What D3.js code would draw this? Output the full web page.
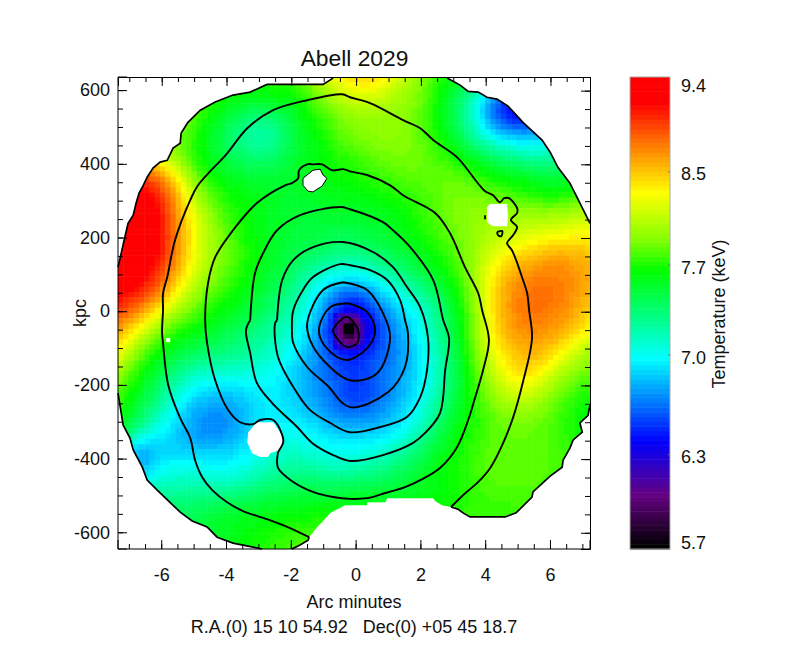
<!DOCTYPE html>
<html>
<head>
<meta charset="utf-8">
<script src="https://cdn.jsdelivr.net/npm/d3@7"></script>
<style>
body{margin:0;background:#fff;}
text{font-family:"Liberation Sans",Arial,sans-serif;fill:#111;}
</style>
</head>
<body>
<svg id="chart" width="786" height="668"></svg>
<script>
// temperature (keV), 25x25 nodes from top-left to bottom-right
let tempGrid = [
[7.8,7.8,7.8,7.8,7.8,7.75,7.7,7.7,7.75,7.75,8.0,8.3,8.45,8.45,8.25,8.0,7.8,7.6,7.5,7.2,7.0,6.8,6.8,6.8,6.8],
[7.9,7.9,7.9,7.9,7.85,7.7,7.65,7.6,7.65,7.65,7.85,8.05,8.2,8.2,8.05,7.95,7.75,7.5,7.2,6.7,6.45,6.3,6.3,6.6,6.8],
[8.0,8.0,8.0,8.0,7.75,7.6,7.45,7.3,7.35,7.55,7.7,7.85,7.95,7.95,7.95,7.9,7.7,7.45,7.1,6.6,6.3,6.35,6.6,6.7,6.9],
[8.2,8.1,8.0,7.9,7.7,7.5,7.25,7.15,7.2,7.5,7.6,7.8,7.9,7.95,7.95,7.9,7.75,7.55,7.25,6.95,6.85,6.8,6.9,7.0,7.1],
[8.8,8.6,8.1,7.9,7.7,7.5,7.4,7.3,7.35,7.55,7.6,7.7,7.75,7.85,7.9,7.9,7.8,7.7,7.5,7.4,7.25,7.15,7.2,7.3,7.4],
[9.3,8.9,8.8,8.3,7.8,7.6,7.55,7.5,7.5,7.55,7.6,7.65,7.7,7.75,7.8,7.85,7.85,7.85,7.8,7.65,7.6,7.55,7.45,7.5,7.6],
[9.5,9.3,9.1,8.6,8.0,7.75,7.65,7.6,7.55,7.55,7.55,7.6,7.6,7.65,7.7,7.75,7.8,7.9,7.9,7.85,7.8,7.7,7.65,7.7,7.8],
[9.6,9.5,9.2,8.65,8.2,7.85,7.7,7.6,7.55,7.5,7.5,7.55,7.55,7.55,7.6,7.7,7.8,7.9,7.95,8.0,8.0,8.0,8.0,8.05,8.1],
[9.7,9.6,9.25,8.7,8.25,7.95,7.75,7.6,7.55,7.5,7.5,7.45,7.45,7.5,7.55,7.65,7.75,7.85,7.95,8.05,8.1,8.2,8.25,8.3,8.35],
[9.7,9.5,9.2,8.7,8.2,7.95,7.8,7.65,7.55,7.45,7.4,7.3,7.3,7.35,7.45,7.55,7.65,7.8,7.95,8.2,8.4,8.5,8.6,8.6,8.5],
[9.5,9.3,9.0,8.55,8.15,7.9,7.75,7.6,7.5,7.35,7.15,7.05,7.0,7.1,7.25,7.4,7.55,7.7,7.95,8.35,8.6,8.7,8.75,8.7,8.6],
[9.2,9.05,8.8,8.3,7.95,7.8,7.65,7.55,7.4,7.25,7.0,6.7,6.55,6.75,7.0,7.15,7.35,7.6,7.9,8.4,8.7,8.8,8.8,8.7,8.55],
[8.9,8.7,8.3,7.95,7.8,7.65,7.55,7.45,7.3,7.15,6.9,6.45,6.2,6.5,6.8,6.95,7.2,7.5,7.85,8.4,8.7,8.8,8.75,8.65,8.45],
[8.6,8.25,7.9,7.7,7.6,7.5,7.4,7.3,7.2,7.05,6.8,6.35,6.1,6.4,6.7,6.9,7.15,7.45,7.85,8.35,8.65,8.7,8.65,8.5,8.3],
[8.3,7.9,7.65,7.5,7.4,7.35,7.3,7.2,7.1,6.95,6.75,6.5,6.4,6.55,6.65,6.85,7.1,7.4,7.8,8.25,8.5,8.6,8.5,8.2,8.0],
[8.0,7.7,7.5,7.3,7.15,7.1,7.1,7.05,7.0,6.85,6.7,6.6,6.5,6.6,6.7,6.85,7.05,7.35,7.75,8.1,8.4,8.45,8.2,7.95,7.85],
[7.8,7.6,7.35,7.1,6.9,6.85,6.85,6.95,6.95,6.85,6.75,6.6,6.45,6.55,6.7,6.9,7.1,7.4,7.7,7.95,8.2,8.2,7.95,7.8,7.7],
[7.7,7.5,7.2,6.95,6.75,6.7,6.75,6.9,6.95,6.9,6.8,6.65,6.6,6.65,6.8,6.95,7.2,7.5,7.7,7.85,7.95,7.95,7.85,7.7,7.6],
[7.6,7.25,7.0,6.85,6.7,6.65,6.75,6.9,7.0,7.0,6.95,6.85,6.85,6.85,6.9,7.05,7.35,7.6,7.7,7.8,7.85,7.85,7.8,7.7,7.6],
[7.3,6.6,6.85,6.85,6.85,6.85,6.9,7.0,7.1,7.1,7.05,7.0,7.0,7.05,7.15,7.3,7.5,7.65,7.75,7.85,7.85,7.85,7.8,7.75,7.7],
[7.2,6.7,7.0,7.05,7.05,7.0,7.0,7.1,7.2,7.25,7.25,7.15,7.2,7.25,7.35,7.5,7.6,7.7,7.75,7.85,7.85,7.85,7.8,7.8,7.8],
[7.2,7.2,7.2,7.2,7.25,7.2,7.25,7.35,7.4,7.45,7.45,7.45,7.5,7.5,7.5,7.55,7.6,7.65,7.75,7.8,7.8,7.8,7.8,7.8,7.8],
[7.4,7.4,7.4,7.4,7.4,7.5,7.55,7.55,7.6,7.6,7.65,7.65,7.65,7.65,7.65,7.65,7.65,7.7,7.75,7.75,7.75,7.8,7.8,7.8,7.8],
[7.5,7.5,7.5,7.5,7.5,7.55,7.6,7.65,7.7,7.75,7.75,7.75,7.75,7.75,7.75,7.75,7.75,7.75,7.75,7.75,7.75,7.8,7.8,7.8,7.8],
[7.5,7.5,7.5,7.5,7.5,7.55,7.6,7.7,7.75,7.8,7.8,7.8,7.8,7.8,7.8,7.8,7.8,7.8,7.8,7.8,7.8,7.8,7.8,7.8,7.8]
];

// the cool core, read cell by cell: cells 41-46 across, 45-51 down
let coreTemp = [
[6.35,6.2,6.15,6.15,6.2,6.35],
[6.25,6.1,6.0,5.95,6.05,6.25],
[6.2,6.0,5.72,5.7,5.95,6.2],
[6.15,6.0,5.7,5.7,5.95,6.15],
[6.2,6.05,5.9,5.85,6.0,6.2],
[6.25,6.1,6.05,6.0,6.05,6.25],
[6.35,6.25,6.2,6.2,6.25,6.35]
];
let coreCol = 41, coreRow = 45;

// contours, [arcmin, kpc]
let contour1 = [[-1.45,-612],[-2.13,-584],[-2.75,-563],[-3.49,-541],[-3.98,-517],[-4.44,-484],[-4.75,-449],[-4.97,-403],[-5.12,-343],[-5.43,-289],[-5.80,-199],[-5.96,-85],[-5.99,-55],[-5.96,4],[-5.96,50],[-5.83,94],[-5.59,194],[-5.12,303],[-4.88,343],[-3.98,430],[-3.36,498],[-2.56,547],[-1.51,574],[-0.43,590],[-0.19,582],[0.43,566],[1.45,520],[1.98,498],[2.38,466],[3.12,419],[3.73,352],[3.98,327],[4.23,316],[4.44,297],[4.57,308],[4.72,308],[4.97,281],[4.97,268],[4.78,249],[4.97,230],[4.85,208],[4.66,186],[4.81,167],[4.94,140],[5.12,94],[5.28,50],[5.34,4],[5.43,-72],[5.15,-191],[4.85,-286],[4.51,-362],[4.14,-424],[3.77,-462],[3.30,-498],[2.93,-530]];
let contour2 = [[-2.41,-381],[-2.41,-424],[-1.94,-462],[-1.33,-489],[-0.71,-503],[-0.19,-508],[0.34,-506],[0.90,-492],[1.51,-476],[1.98,-457],[2.59,-424],[3.12,-367],[3.46,-294],[3.67,-234],[3.92,-158],[4.10,-77],[3.89,4],[3.77,50],[3.36,121],[2.90,213],[2.44,268],[1.45,316],[1.05,343],[0.34,371],[-0.19,381],[-0.40,387],[-0.74,384],[-1.05,400],[-1.33,400],[-1.51,400],[-1.76,384],[-1.79,362],[-1.98,349],[-2.19,343],[-3.06,295],[-3.80,221],[-4.35,148],[-4.57,78],[-4.66,-23],[-4.60,-85],[-4.35,-186],[-3.95,-267],[-3.58,-300],[-3.18,-305],[-2.96,-294],[-2.56,-294],[-2.28,-335],[-2.25,-354],[-2.41,-381]];
let contour3 = [[-3.27,-23],[-3.12,105],[-2.87,159],[-2.44,221],[-1.73,262],[-0.49,284],[-0.19,278],[0.83,243],[1.14,221],[1.67,175],[2.38,86],[2.69,-23],[2.87,-72],[2.75,-158],[2.59,-275],[2.13,-329],[1.76,-356],[0.83,-389],[-0.19,-405],[-0.71,-389],[-1.36,-356],[-1.82,-313],[-2.59,-248],[-3.06,-194],[-3.27,-112],[-3.40,-50],[-3.27,-23]];
let contour4 = [[-2.44,-23],[-2.28,86],[-1.94,140],[-1.33,175],[-0.40,189],[0.52,162],[1.14,121],[1.57,67],[1.98,12],[2.22,-72],[2.19,-158],[1.98,-232],[1.57,-286],[0.74,-313],[-0.19,-327],[-0.80,-302],[-1.42,-267],[-1.82,-221],[-2.41,-123],[-2.50,-31],[-2.44,-23]];
let contour5 = [[-1.98,-50],[-1.94,4],[-1.64,59],[-1.33,94],[-0.49,129],[-0.19,126],[0.43,113],[0.96,86],[1.36,31],[1.51,-23],[1.60,-58],[1.51,-150],[0.99,-218],[-0.19,-259],[-0.90,-199],[-1.51,-150],[-1.94,-85],[-1.98,-50]];
let contour6 = [[-0.40,80],[-1.02,59],[-1.51,-31],[-1.42,-77],[-1.02,-131],[-0.19,-186],[0.65,-167],[1.05,-69],[0.83,-4],[0.34,59],[-0.40,80]];
let contour7 = [[-0.25,23],[-0.80,12],[-1.14,-42],[-1.05,-82],[-0.59,-123],[-0.25,-131],[0.34,-99],[0.59,-50],[0.34,-1],[-0.25,23]];
let contour8 = [[-0.40,-17],[-0.71,-50],[-0.59,-72],[-0.28,-96],[0.03,-85],[0.06,-50],[-0.25,-15],[-0.40,-17]];
let smallLoop = [[4.35,216],[4.51,219],[4.48,205],[4.38,208],[4.35,216]];
let smallDash = [[3.98,262],[3.98,251]];
let contours = [contour1,contour2,contour3,contour4,contour5,contour6,contour7,contour8,smallLoop,smallDash];

// edge of the data, the parts that carry a line
let edgeTopLeft = [[-7.35,121],[-7.25,159],[-7.16,194],[-7.04,240],[-6.88,262],[-6.79,295],[-6.70,322],[-6.57,343],[-6.45,365],[-6.27,390],[-6.05,406],[-5.83,411],[-5.65,444],[-5.43,457],[-5.40,485],[-5.19,514],[-4.81,547],[-4.35,569],[-3.80,588],[-3.27,596],[-2.75,617],[-1.02,617],[-0.71,634]];
let edgeTopRight = [[2.81,634],[3.21,615],[3.46,598],[3.77,596],[4.04,582],[4.35,577],[4.69,558],[5.15,514],[5.74,466],[5.99,433],[6.23,392],[6.60,349],[6.91,295],[7.22,240]];
let edgeBottomRight = [[2.93,-530],[3.15,-536],[3.30,-546],[3.52,-557],[4.60,-557],[4.94,-546],[5.43,-503],[5.46,-489],[5.99,-446],[6.36,-422],[6.39,-403],[6.60,-370],[6.70,-348],[6.98,-327],[6.91,-302],[7.16,-281],[7.22,-253]];
let edgeBottomLeft = [[-7.35,-221],[-7.28,-259],[-7.19,-308],[-6.98,-343],[-6.88,-375],[-6.60,-422],[-6.45,-457],[-6.14,-484],[-5.43,-544],[-5.06,-568],[-4.60,-584],[-4.29,-612],[-3.80,-628],[-3.18,-639],[-2.90,-644]];
let edgeBottomMid = [[-1.98,-644],[-1.73,-633],[-1.48,-620],[-1.45,-612]];
let edgeGap = [[-1.20,-584],[-1.05,-571],[-0.80,-546],[-0.34,-525],[0.34,-525],[0.34,-517],[0.90,-517],[0.96,-506],[2.38,-506],[2.44,-514],[2.65,-525]];

// point sources cut out of the map
let hole1 = [[-1.33,384],[-1.11,387],[-1.02,371],[-0.90,362],[-1.05,341],[-1.33,325],[-1.48,327],[-1.64,343],[-1.64,362]];
let hole2 = [[4.14,292],[4.66,292],[4.69,257],[4.66,232],[4.23,232],[4.04,243],[4.04,284]];
let hole3 = [[-3.06,-300],[-2.56,-300],[-2.28,-335],[-2.22,-343],[-2.35,-375],[-2.65,-384],[-2.72,-394],[-2.96,-394],[-3.21,-384],[-3.36,-354],[-3.33,-327]];
let holes = [hole1,hole2,hole3];
let badCells = [[-5.80,-77]];

let xMajor = [-6,-4,-2,0,2,4,6];
let xMinor = d3.range(-7,7.5,0.5);
let yMajor = [-600,-400,-200,0,200,400,600];
let yMinor = d3.range(-600,650,50);
let barTicks = [5.7,6.3,7.0,7.7,8.5,9.4];
let barTickText = ["5.7","6.3","7.0","7.7","8.5","9.4"];

let colorStops = [0,0.11,0.225,0.31,0.40,0.49,0.585,0.65,0.75,0.82,0.94,1];
let colorNames = ["#000000","#640082","#0000ff","#0080ff","#00ffff","#00ff80","#00ff00","#82ff00","#ffff00","#ffa500","#ff0000","#ff0000"];
let bandCount = 100;
let cellCount = 90;

let svg = d3.select("#chart");

let x = d3.scaleLinear().domain([-7.35,7.22]).range([118,590]);
let y = d3.scaleLinear().domain([-644,637]).range([549,77]);
let frac = d3.scaleLog().domain([5.7,9.4]).range([0,1]).clamp(true);
let color = d3.scaleLinear().domain(colorStops).range(colorNames);
let barY = d3.scaleLinear().domain([0,1]).range([549,77]);

function tempColor(t){
    return color(Math.floor(frac(t)*bandCount)/bandCount);
}

// map cells
let cells = [];
let rows = tempGrid.map(r=>d3.interpolateBasis(r));
for(let a=0; a<cellCount; a++){
    let colVals = rows.map(f=>f((a+0.5)/cellCount));
    let col = d3.interpolateBasis(colVals);
    for(let b=0; b<cellCount; b++){
        let t = col((b+0.5)/cellCount);
        let ca = a-coreCol, cb = b-coreRow;
        if(cb>=0 && cb<coreTemp.length && ca>=0 && ca<coreTemp[0].length) t = coreTemp[cb][ca];
        cells.push({a:a, b:b, t:t});
    }
}

let cellX = d3.scaleLinear().domain([0,cellCount]).range(x.range());
let cellY = d3.scaleLinear().domain([0,cellCount]).range([y.range()[1],y.range()[0]]);

let line = d3.line().x(d=>x(d[0])).y(d=>y(d[1]));
let smooth = d3.line().x(d=>x(d[0])).y(d=>y(d[1])).curve(d3.curveCatmullRom.alpha(0.5));

// walk the rim clockwise: right edge comes down, then back along the gap to the left
let outline = [].concat(edgeTopLeft,edgeTopRight,edgeBottomRight.slice().reverse(),edgeGap.slice().reverse(),edgeBottomMid.slice().reverse(),edgeBottomLeft.slice().reverse());

svg.append("clipPath").attr("id","rim")
    .append("path").attr("d",line(outline)+"Z");

svg.append("g").attr("clip-path","url(#rim)")
    .selectAll("rect").data(cells).join("rect")
    .attr("x",d=>cellX(d.a))
    .attr("y",d=>cellY(d.b))
    .attr("width",cellX(1)-cellX(0)+0.5)
    .attr("height",cellY(1)-cellY(0)+0.5)
    .attr("fill",d=>tempColor(d.t));

svg.append("g").selectAll("path").data(holes).join("path")
    .attr("d",d=>line(d)+"Z")
    .attr("fill","#fff")
    .attr("stroke",(d,i)=>i==0?"#000":"none")
    .attr("stroke-width",1);

svg.append("g").selectAll("rect").data(badCells).join("rect")
    .attr("x",d=>x(d[0])-2)
    .attr("y",d=>y(d[1])-2)
    .attr("width",4)
    .attr("height",4)
    .attr("fill","#fff");

svg.append("g").selectAll("path").data(contours).join("path")
    .attr("d",d=>smooth(d))
    .attr("fill","none")
    .attr("stroke","#000")
    .attr("stroke-width",1.9);

svg.append("g").selectAll("path").data([edgeTopLeft,edgeTopRight,edgeBottomRight,edgeBottomLeft,edgeBottomMid]).join("path")
    .attr("d",d=>line(d))
    .attr("fill","none")
    .attr("stroke","#000")
    .attr("stroke-width",1.7);

// frame and ticks, bottom and left sit on a pixel edge so they come out grey like the original
let frame = [
    {gen:()=>d3.axisBottom(x),t:"translate(0,549)",off:0,vals:xMajor,minor:xMinor,labels:true,pad:19},
    {gen:()=>d3.axisTop(x),t:"translate(0,77)",off:0.5,vals:xMajor,minor:xMinor,labels:false,pad:9},
    {gen:()=>d3.axisLeft(y),t:"translate(118,0)",off:0,vals:yMajor,minor:yMinor,labels:true,pad:8},
    {gen:()=>d3.axisRight(y),t:"translate(590,0)",off:0.5,vals:yMajor,minor:yMinor,labels:false,pad:9}
];
frame.forEach(f=>{
    let g = svg.append("g").attr("transform",f.t);
    g.append("g")
        .call(f.gen().offset(f.off).tickValues(f.minor).tickSize(-5).tickFormat(""))
        .call(s=>s.select(".domain").remove());
    let major = g.append("g")
        .call(f.gen().offset(f.off).tickValues(f.vals).tickSize(-9).tickPadding(f.pad)
            .tickFormat(f.labels ? (d=>String(d)) : ""));
    major.selectAll("text").attr("font-size",18).attr("font-family",'"Liberation Sans",Arial,sans-serif').attr("fill","#111");
});

svg.append("text").attr("x",354.5).attr("y",66).attr("text-anchor","middle").attr("font-size",22.8).text("Abell 2029");
svg.append("text").attr("x",354).attr("y",608).attr("text-anchor","middle").attr("font-size",18).text("Arc minutes");
svg.append("text").attr("x",354).attr("y",633).attr("text-anchor","middle").attr("font-size",18).attr("xml:space","preserve").text("R.A.(0) 15 10 54.92   Dec(0) +05 45 18.7");
svg.append("text").attr("transform","translate(86,313) rotate(-90)").attr("text-anchor","middle").attr("font-size",18).text("kpc");

// colour bar
let bands = d3.range(bandCount);
svg.append("g").selectAll("rect").data(bands).join("rect")
    .attr("x",630)
    .attr("width",40)
    .attr("y",d=>barY((d+1)/bandCount))
    .attr("height",barY(0)-barY(1/bandCount)+0.5)
    .attr("fill",d=>color(d/bandCount));
svg.append("rect").attr("x",630).attr("y",77).attr("width",40).attr("height",472)
    .attr("fill","none").attr("stroke","#aaa").attr("stroke-width",1);
svg.append("g").selectAll("line").data(barTicks.slice(1,5)).join("line")
    .attr("x1",668).attr("x2",670)
    .attr("y1",d=>barY(frac(d)))
    .attr("y2",d=>barY(frac(d)))
    .attr("stroke","#777");
svg.append("g").selectAll("text").data(barTicks).join("text")
    .attr("x",681)
    .attr("y",d=>Math.min(Math.max(barY(frac(d)),86),543)+(d==5.7||d==9.4?0:2))
    .attr("dy","0.36em")
    .attr("font-size",18)
    .text((d,i)=>barTickText[i]);
svg.append("text").attr("transform","translate(725,314) rotate(-90)").attr("text-anchor","middle").attr("font-size",18).text("Temperature (keV)");
</script>
</body>
</html>
